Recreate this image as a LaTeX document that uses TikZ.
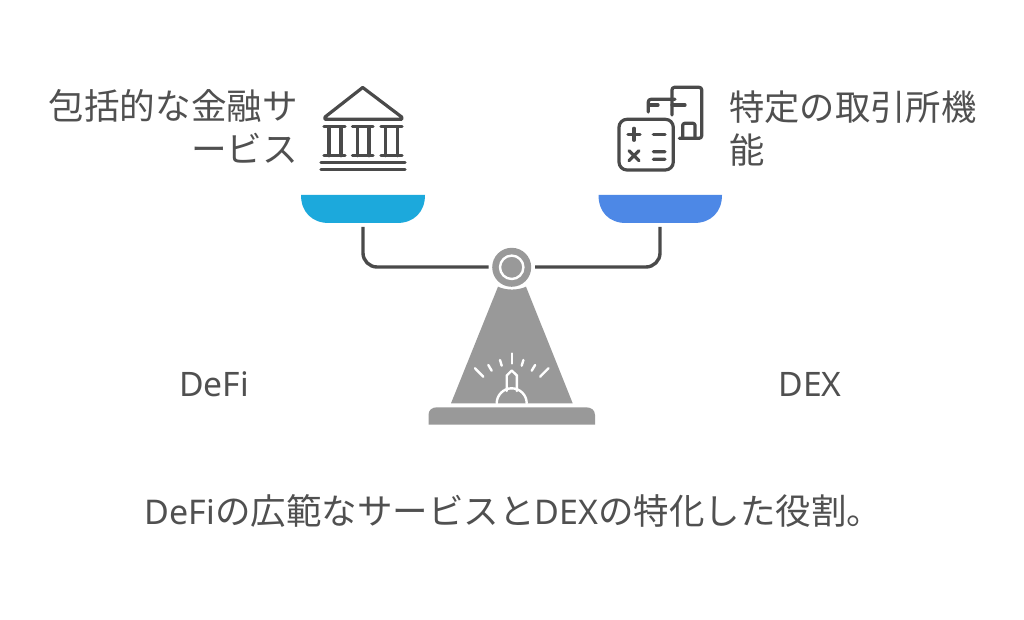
\documentclass[tikz,border=0pt]{standalone}
\usepackage{fontspec}
\setmainfont{Noto Sans}
\newfontfamily\cjk{Noto Sans CJK JP}
\definecolor{ink}{HTML}{4A4A4A}
\definecolor{txt}{HTML}{505050}
\definecolor{stone}{HTML}{999999}
\definecolor{panA}{HTML}{1CA9DC}
\definecolor{panB}{HTML}{4D88E6}
\tikzset{
  x=1pt,y=-1pt,
  label text/.style={text=txt,inner sep=0pt,font=\fontsize{33.7}{34}\selectfont},
  jp text/.style={text=txt,inner sep=0pt,font=\cjk\fontsize{35.6}{35.6}\selectfont},
  jp right/.style={text=txt,inner sep=0pt,font=\cjk\fontsize{35.3}{35.3}\selectfont},
  note text/.style={text=txt,inner sep=0pt,font=\fontsize{34}{34}\selectfont},
  icon/.style={draw=ink,line width=3.2pt,line cap=round,line join=round},
  beam/.style={draw=ink,line width=3.4pt,rounded corners=14pt},
  lightline/.style={draw=white,line width=2.4pt,line cap=round,line join=round}
}
\newcommand{\jpn}[1]{{\cjk\fontsize{35.5}{35.5}\selectfont #1}}
\begin{document}
\begin{tikzpicture}
\useasboundingbox (0,0) rectangle (1024,620);
\fill[white] (0,0) rectangle (1024,620);
% pans
\fill[panA] (301,195) -- (425,195) .. controls (425,212) and (414,223) .. (397,223) -- (329,223) .. controls (312,223) and (301,212) .. (301,195) -- cycle;
\fill[panB] (598.5,195) -- (722,195) .. controls (722,212) and (711,223) .. (694,223) -- (626,223) .. controls (609,223) and (598.5,212) .. (598.5,195) -- cycle;
% pivot and beam
\coordinate (panL) at (363,227);
\coordinate (panR) at (660,227);
\coordinate (pivL) at (488.5,267);
\coordinate (pivR) at (535,267);
\draw[beam] (panL) |- (pivL);
\draw[beam] (panR) |- (pivR);
\fill[stone] (511.7,267.3) circle (19.5);
\draw[draw=white,line width=2.4pt] (511.7,267.3) circle (11.7);
% stand
\fill[stone] (498,286.7) .. controls (506,290.5) and (518,290.5) .. (526,286.7) -- (572.7,403.3) -- (451,403.3) -- cycle;
\fill[stone] (428.5,424.5) -- (428.5,415) .. controls (428.5,410) and (432,407.3) .. (437,407.3) -- (586,407.3) .. controls (591,407.3) and (595,410) .. (595,415) -- (595,424.5) -- cycle;
% light symbol
\draw[lightline] (496.7,403.3) arc[start angle=180,end angle=360,radius=15,y=-1pt];
\draw[lightline] (506.7,391) -- (506.7,375.5) -- (511.7,370.5) -- (516.9,375.5) -- (516.9,391);
\foreach \a/\b/\c/\d in {511.7/353.5/511.7/363.5, 500/360/501.7/365.7, 488.3/365/491.7/370.7, 475/368.3/483.3/376.7, 523.4/360/521.7/365.7, 535.1/365/531.7/370.7, 548.4/368.3/540.1/376.7}
  \draw[lightline] (\a,\b) -- (\c,\d);
% bank icon
\draw[icon] (362.7,87.5) -- (325,117) -- (325,119.3) -- (401.7,119.3) -- (401.7,117) -- cycle;
\draw[icon] (324,126.7) -- (345,126.7) (329,126.7) -- (329,155.7) (341,126.7) -- (341,155.7) (324,155.7) -- (345,155.7);
\draw[icon] (352.5,126.7) -- (373,126.7) (357.3,126.7) -- (357.3,155.7) (369,126.7) -- (369,155.7) (352.5,155.7) -- (373,155.7);
\draw[icon] (381,126.7) -- (402,126.7) (385.7,126.7) -- (385.7,155.7) (397.3,126.7) -- (397.3,155.7) (381,155.7) -- (402,155.7);
\draw[icon] (321,162.3) -- (405,162.3) (321,169.3) -- (405,169.3);
% calculator icon
\draw[icon,rounded corners=2.5pt] (672,115) -- (672,87.3) -- (701.7,87.3) -- (701.7,138.3) -- (679.3,138.3);
\draw[icon,rounded corners=2pt] (682.7,138) -- (682.7,123.3) -- (695,123.3) -- (695,138);
\draw[icon,rounded corners=2.5pt] (648.3,112) -- (648.3,99.3) -- (675,99.3);
\draw[icon] (649,105) -- (658,105) (672,105) -- (685,105);
\draw[icon,rounded corners=8pt] (619,119.3) rectangle (673.3,170);
\draw[icon] (628,134.3) -- (640,134.3) (634,128.3) -- (634,140.3) (653.3,134.3) -- (665,134.3);
\draw[icon] (629,150.7) -- (639,160.7) (639,150.7) -- (629,160.7) (653.3,151.7) -- (665,151.7) (653.3,159.3) -- (665,159.3);
% text
\node[jp text,anchor=east] (a1) at (298,106) {包括的な金融サ};
\node[jp text,anchor=east] (a2) at (298,148) {ービス};
\node[jp right,anchor=west] (b1) at (729,107) {特定の取引所機};
\node[jp right,anchor=west] (b2) at (729,150) {能};
\node[label text] (defi) at (214,384) {DeFi};
\node[label text] (dex) at (810,384) {DEX};
\node[note text] (note) at (513.5,510.5) {DeFi\jpn{の広範なサービスと}DEX\jpn{の特化した役割。}};
\end{tikzpicture}
\end{document}
